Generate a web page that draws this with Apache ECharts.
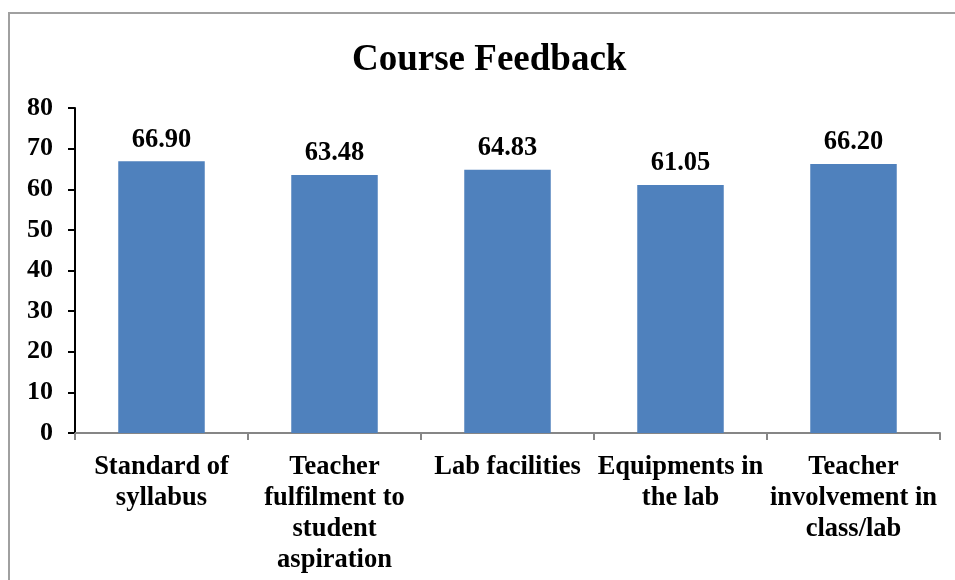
<!DOCTYPE html>
<html>
<head>
<meta charset="utf-8">
<script src="https://cdn.jsdelivr.net/npm/echarts@6/dist/echarts.min.js"></script>
<style>
    html, body { margin: 0; padding: 0; background: #fff; }
    .frame {
        position: absolute; left: 8px; top: 12px;
        width: 980px; height: 600px;
        border: 2px solid #a0a0a0; box-sizing: border-box;
    }
    #chart { position: absolute; left: 0; top: 0; width: 955px; height: 580px; }
</style>
</head>
<body>
<div class="frame"></div>
<div id="chart"></div>
<script>
    // categories and values
    var categories = [
        'Standard of\nsyllabus',
        'Teacher\nfulfilment to\nstudent\naspiration',
        'Lab facilities',
        'Equipments in\nthe lab',
        'Teacher\ninvolvement in\nclass/lab'
    ];
    var scores = [66.90, 63.48, 64.83, 61.05, 66.20];
    var yTicks = [0, 10, 20, 30, 40, 50, 60, 70, 80];

    var serif = '"Liberation Serif", "Times New Roman", serif';
    var myChart = echarts.init(document.getElementById('chart'));
    myChart.setOption({
        animation: false,
        title: {
            text: 'Course Feedback',
            left: 347,
            top: 37,
            textStyle: { fontFamily: serif, fontSize: 37, fontWeight: 'bold', color: '#000' }
        },
        grid: { left: 75, right: 15, top: 108, bottom: 147 },
        xAxis: {
            type: 'category',
            data: categories,
            axisLine: { lineStyle: { color: '#868686', width: 2 } },
            axisTick: { show: true, length: 7, lineStyle: { color: '#868686', width: 2 } },
            axisLabel: {
                interval: 0,
                margin: 19,
                color: '#000',
                fontFamily: serif,
                fontSize: 26.5,
                fontWeight: 'bold',
                lineHeight: 31
            }
        },
        yAxis: {
            type: 'value',
            min: yTicks[0],
            max: yTicks[yTicks.length - 1],
            interval: 10,
            axisLine: { show: true, lineStyle: { color: '#000', width: 2 } },
            axisTick: { show: true, length: 7, lineStyle: { color: '#000', width: 2 } },
            splitLine: { show: false },
            axisLabel: {
                margin: 22,
                color: '#000',
                fontFamily: serif,
                fontSize: 26,
                fontWeight: 'bold'
            }
        },
        series: [{
            type: 'bar',
            data: scores,
            barCategoryGap: '50%',
            itemStyle: { color: '#4f81bd' },
            label: {
                show: true,
                position: 'top',
                distance: 8,
                color: '#000',
                fontFamily: serif,
                fontSize: 26.5,
                fontWeight: 'bold',
                formatter: function (p) { return p.value.toFixed(2); }
            }
        }]
    });
</script>
</body>
</html>
